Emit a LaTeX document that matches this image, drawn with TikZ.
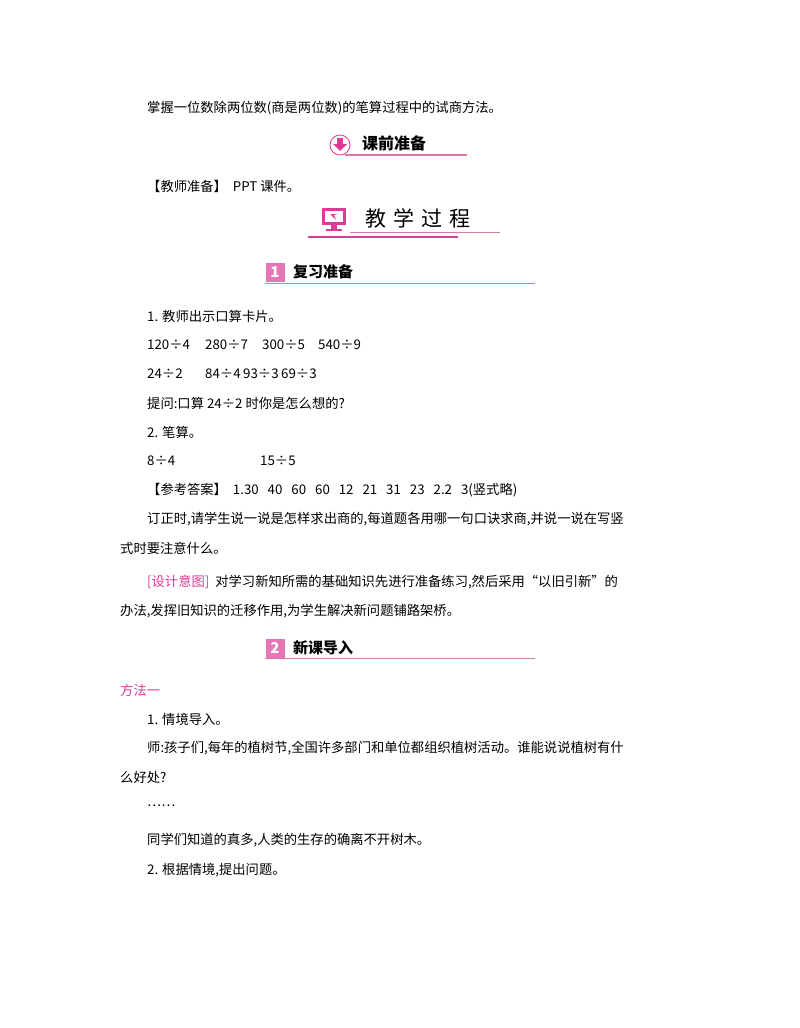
\documentclass[tikz,border=0pt]{standalone}
\usepackage{fontspec}
\setmainfont{Noto Sans CJK SC}
\definecolor{pk}{RGB}{220,60,150}
\definecolor{pkl}{RGB}{215,120,170}
\begin{document}
\begin{tikzpicture}[x=1pt,y=-1pt,
  tx/.style={anchor=west,inner sep=0pt,font=\fontsize{13.3}{14}\selectfont},
  hd/.style={anchor=west,inner sep=0pt,font=\fontsize{15}{16}\selectfont\bfseries},
  nb/.style={anchor=center,inner sep=0pt,minimum width=19pt,minimum height=19pt,fill=pk!70,text=white,font=\fontsize{15}{16}\selectfont\bfseries\itshape}]
\useasboundingbox (0,0) rectangle (800,1028);
\node[tx] (l1) at (147,108) {掌握一位数除两位数(商是两位数)的笔算过程中的试商方法。};
% header 1
\draw[pk,line width=0.8pt,fill=white] (340,145) circle (10);
\fill[pk] (337,138) rectangle (343,144);
\fill[pk] (333,144) -- (347,144) -- (340,151) -- cycle;
\node[hd,font=\fontsize{16}{17}\selectfont\bfseries] (h1) at (362,143) {课前准备};
\draw[pkl,line width=1.2pt] (345,155) -- (467,155);
\node[tx] (l2) at (147,186) {【教师准备】\ \ PPT 课件。};
% header 2
\fill[pk] (322,208) rectangle (346,225);
\fill[white] (325,211) rectangle (343,222);
\fill[pk] (330,214) -- (336,220) -- (334,215) -- (338,214) -- cycle;
\fill[pk] (331,225) rectangle (337,229);
\fill[pk] (326,229) rectangle (342,231);
\node[anchor=west,inner sep=0pt,font=\fontsize{21}{22}\selectfont] (h2) at (365,218) {教\,\,学\,\,过\,\,程};
\draw[pkl,line width=0.8pt] (350,232) -- (500,232);
\draw[pk,line width=1.5pt] (308,237) -- (458,237);
% header 3
\node[nb] (n1) at (275,272) {1};
\node[hd] (h3) at (293,272) {复习准备};
\draw[pkl,line width=0.8pt] (265,283) -- (535,283);
\node[tx] (a1) at (147,316) {1. 教师出示口算卡片。};
\node[tx] (a2) at (147,345) {120÷4};
\node[tx] (a3) at (205,345) {280÷7};
\node[tx] (a4) at (262,345) {300÷5};
\node[tx] (a5) at (318,345) {540÷9};
\node[tx] (b1) at (147,374) {24÷2};
\node[tx] (b2) at (205,374) {84÷4};
\node[tx] (b3) at (243,374) {93÷3};
\node[tx] (b4) at (281,374) {69÷3};
\node[tx] (c1) at (147,403) {提问:口算 24÷2 时你是怎么想的?};
\node[tx] (c2) at (147,432) {2. 笔算。};
\node[tx] (d1) at (147,461) {8÷4};
\node[tx] (d2) at (260,461) {15÷5};
\node[tx] (e1) at (147,490) {【参考答案】\ \ 1.30\ \ \ 40\ \ \ 60\ \ \ 60\ \ \ 12\ \ \ 21\ \ \ 31\ \ \ 23\ \ \ 2.2\ \ \ 3(竖式略)};
\node[tx] (f1) at (147,519) {订正时,请学生说一说是怎样求出商的,每道题各用哪一句口诀求商,并说一说在写竖};
\node[tx] (f2) at (120,548) {式时要注意什么。};
\node[tx] (g1) at (147,582) {\textcolor{pk}{[设计意图]}\ \ 对学习新知所需的基础知识先进行准备练习,然后采用“以旧引新”的};
\node[tx] (g2) at (120,611) {办法,发挥旧知识的迁移作用,为学生解决新问题铺路架桥。};
% header 4
\node[nb] (n2) at (275,648) {2};
\node[hd] (h4) at (293,648) {新课导入};
\draw[pkl,line width=0.8pt] (265,658) -- (535,658);
\node[tx,text=pk] (m1) at (120,690) {方法一};
\node[tx] (m2) at (147,719) {1. 情境导入。};
\node[tx] (m3) at (147,748) {师:孩子们,每年的植树节,全国许多部门和单位都组织植树活动。谁能说说植树有什};
\node[tx] (m4) at (120,777) {么好处?};
\node[tx] (m5) at (147,806) {……};
\node[tx] (m6) at (147,840) {同学们知道的真多,人类的生存的确离不开树木。};
\node[tx] (m7) at (147,870) {2. 根据情境,提出问题。};
\end{tikzpicture}
\end{document}
